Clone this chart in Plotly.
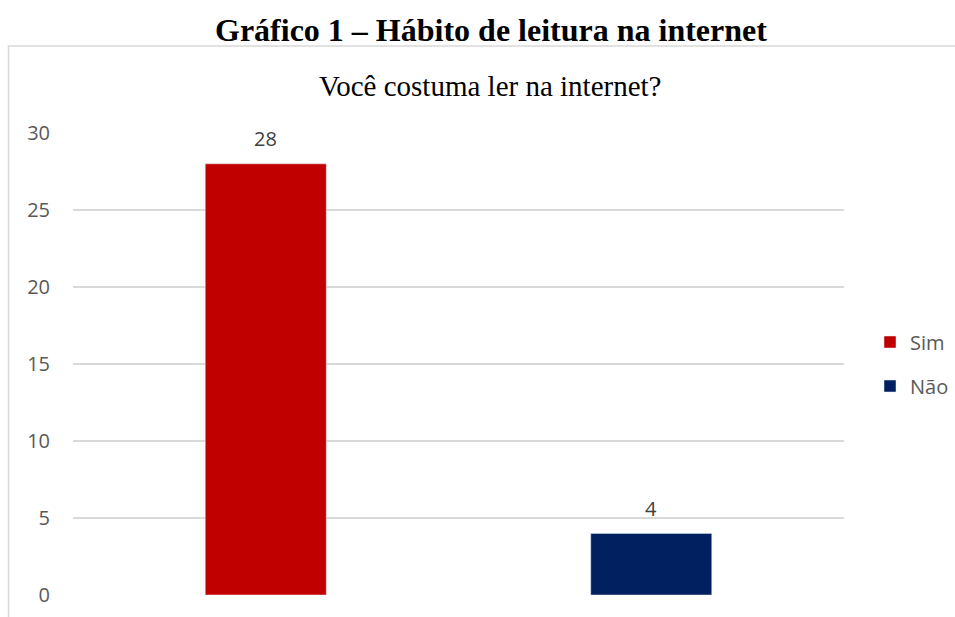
import plotly.graph_objects as go

categories = ["Sim", "Não"]
values = [28, 4]
colors = ["#C00000", "#002060"]
y_ticks = [0, 5, 10, 15, 20, 25, 30]

main_title = "Gráfico 1 – Hábito de leitura na internet"
chart_title = "Você costuma ler na internet?"

L, R, T, B = 73, 111, 133, 22
W, H = 955, 617
pw, ph = W - L - R, H - T - B

def px(x):
    return (x - L) / pw

def py(y):
    return (H - B - y) / ph

fig = go.Figure()
for i, (c, v, col) in enumerate(zip(categories, values, colors)):
    fig.add_trace(go.Bar(
        x=[c], y=[v], name=c, marker_color=col, width=0.314,
        legendgroup=c,
    ))

label_annotations = [
    dict(x=c, y=v, xref="x", yref="y", text=str(v), showarrow=False,
         yanchor="middle", yshift=25,
         font=dict(family="Open Sans", size=20, color="#404040"))
    for c, v in zip(categories, values)
]

fig.update_layout(
    width=W, height=H,
    margin=dict(l=L, r=R, t=T, b=B, autoexpand=False),
    paper_bgcolor="white", plot_bgcolor="white",
    barmode="overlay",
    showlegend=True,
    legend=dict(x=px(870), y=py(364), yanchor="middle", xanchor="left",
                traceorder="grouped", tracegroupgap=15,
                font=dict(family="Open Sans", size=20, color="#595959"),
                bgcolor="rgba(0,0,0,0)"),
    xaxis=dict(showticklabels=False, showgrid=False, zeroline=False,
               showline=False, ticks=""),
    yaxis=dict(range=[0, 30], tickvals=y_ticks, showgrid=True,
               gridcolor="#D9D9D9", gridwidth=1.5, zeroline=False,
               showline=False, ticks="", ticklabelstandoff=22,
               tickfont=dict(family="Open Sans", size=20, color="#595959")),
    shapes=[dict(type="rect", xref="paper", yref="paper",
                 x0=px(8.5), x1=px(970), y0=py(640), y1=py(46),
                 line=dict(color="#D9D9D9", width=1.5), fillcolor="rgba(0,0,0,0)",
                 layer="below")],
    annotations=[
        dict(text="<b>" + main_title + "</b>", xref="paper", yref="paper",
             x=px(490.5), y=py(30), xanchor="center", yanchor="middle",
             showarrow=False,
             font=dict(family="Liberation Serif", size=32, color="black")),
        dict(text=chart_title, xref="paper", yref="paper",
             x=px(491), y=py(86), xanchor="center", yanchor="middle",
             showarrow=False,
             font=dict(family="Liberation Serif", size=29, color="black")),
    ] + label_annotations,
)

fig.write_html("out.html")
